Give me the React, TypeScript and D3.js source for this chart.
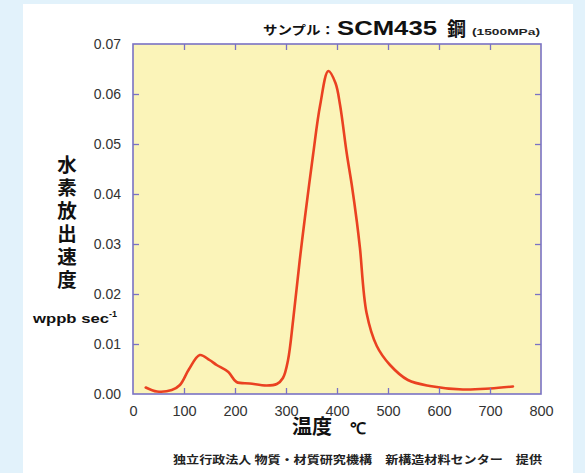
import React, { useEffect, useRef } from "react";
import * as d3 from "d3";

// temperature (°C) and hydrogen release rate (wppb/sec)
const temps = [25, 47, 76, 92, 110, 131, 150, 164, 187, 203, 229, 262, 282, 294, 304, 314, 327, 337, 353, 367, 383, 397, 406, 419, 429, 439, 445, 458, 478, 504, 539, 582, 647, 700, 745];
const rates = [0.0013, 0.0005, 0.0008, 0.0018, 0.005, 0.0078, 0.0068, 0.0058, 0.0044, 0.0024, 0.0021, 0.0017, 0.002, 0.0032, 0.0068, 0.0148, 0.0268, 0.0352, 0.0478, 0.0578, 0.0646, 0.0622, 0.0578, 0.0482, 0.0418, 0.0344, 0.0292, 0.0162, 0.0096, 0.0058, 0.0028, 0.0016, 0.0009, 0.0011, 0.0015];

const xTicks = [0, 100, 200, 300, 400, 500, 600, 700, 800];
const yTicks = [0, 0.01, 0.02, 0.03, 0.04, 0.05, 0.06, 0.07];
const yLabelChars = ["水", "素", "放", "出", "速", "度"];

const W = 585;
const H = 473;
const plot = { left: 133, right: 541, top: 44, bottom: 394 };

const latin = "'Liberation Sans', Arial, Helvetica, sans-serif";
const cjk = "'Noto Sans CJK JP', 'Liberation Sans', sans-serif";
const axisColor = "#7a72c4";

export default function App() {
  const gRef = useRef<SVGGElement>(null);

  const x = d3.scaleLinear().domain([0, 800]).range([plot.left, plot.right]);
  const y = d3.scaleLinear().domain([0, 0.07]).range([plot.bottom, plot.top]);

  const curve = d3
    .line<number>()
    .x((_, i) => x(temps[i]))
    .y((d) => y(d))
    .curve(d3.curveCatmullRom.alpha(0.5));

  useEffect(() => {
    const g = d3.select(gRef.current);
    g.selectAll("*").remove();
    const inner = xTicks.slice(1, -1);
    const innerY = yTicks.slice(1, -1);

    // bottom axis: labels + inward ticks
    const bottom = g
      .append("g")
      .attr("transform", `translate(0,${plot.bottom})`)
      .call(d3.axisBottom(x).tickValues(xTicks).tickSize(-6).tickSizeOuter(0).tickPadding(12).tickFormat(d3.format("d")));
    bottom.select(".domain").remove();
    bottom.selectAll(".tick line").attr("stroke", axisColor).attr("stroke-width", 1.3)
      .attr("display", (d: any) => (inner.includes(d) ? null : "none"));
    bottom.selectAll("text").attr("font-size", 14.5).attr("fill", "#333").attr("font-family", latin);

    // left axis
    const left = g
      .append("g")
      .attr("transform", `translate(${plot.left},0)`)
      .call(d3.axisLeft(y).tickValues(yTicks).tickSize(-6).tickSizeOuter(0).tickPadding(12).tickFormat(d3.format(".2f")));
    left.select(".domain").remove();
    left.selectAll(".tick line").attr("stroke", axisColor).attr("stroke-width", 1.3)
      .attr("display", (d: any) => (innerY.includes(d) ? null : "none"));
    left.selectAll("text").attr("font-size", 14).attr("fill", "#333").attr("font-family", latin);

    // top + right: ticks only
    const top = g
      .append("g")
      .attr("transform", `translate(0,${plot.top})`)
      .call(d3.axisTop(x).tickValues(inner).tickSize(-6).tickSizeOuter(0).tickFormat(() => ""));
    top.select(".domain").remove();
    top.selectAll(".tick line").attr("stroke", axisColor).attr("stroke-width", 1.3);

    const right = g
      .append("g")
      .attr("transform", `translate(${plot.right},0)`)
      .call(d3.axisRight(y).tickValues(innerY).tickSize(-6).tickSizeOuter(0).tickFormat(() => ""));
    right.select(".domain").remove();
    right.selectAll(".tick line").attr("stroke", axisColor).attr("stroke-width", 1.3);
  }, []);

  return (
    <svg width={W} height={H} style={{ position: "absolute", left: 0, top: 0, display: "block" }}>
      <rect x={0} y={0} width={W} height={H} fill="#e2f2fb" />
      <rect x={23} y={4} width={550} height={H - 4} fill="#ffffff" />

      <rect x={plot.left} y={plot.top} width={plot.right - plot.left} height={plot.bottom - plot.top} fill="#fbf4b9" />
      <path d={curve(rates) ?? ""} fill="none" stroke="#ea4121" strokeWidth={2.6} strokeLinejoin="round" strokeLinecap="round" />
      <rect x={plot.left} y={plot.top} width={plot.right - plot.left} height={plot.bottom - plot.top} fill="none" stroke={axisColor} strokeWidth={1.6} />
      <g ref={gRef} />

      {/* title */}
      <rect x={258} y={17} width={288} height={24} fill="#ffffff" />
      <text x={263} y={35} fontFamily={cjk} fontWeight="bold" fontSize={12.5} fill="#111" textLength={72} lengthAdjust="spacingAndGlyphs">サンプル：</text>
      <text x={337} y={35} fontFamily={latin} fontWeight="bold" fontSize={20} fill="#111" textLength={100} lengthAdjust="spacingAndGlyphs">SCM435</text>
      <text x={447} y={36} fontFamily={cjk} fontWeight="bold" fontSize={19} fill="#111">鋼</text>
      <text x={472} y={35} fontFamily={latin} fontWeight="bold" fontSize={9.5} fill="#222" textLength={68} lengthAdjust="spacingAndGlyphs">(1500MPa)</text>

      {/* y label, stacked vertically */}
      <text y={165} textAnchor="middle" fontFamily={cjk} fontWeight="bold" fontSize={19.5} fill="#111">
        {yLabelChars.map((c, i) => (
          <tspan key={c} x={67} dy={i === 0 ? "0.36em" : 23}>{c}</tspan>
        ))}
      </text>
      <text x={33} y={323} fontFamily={latin} fontWeight="bold" fontSize={13.5} fill="#111">
        <tspan textLength={76} lengthAdjust="spacingAndGlyphs">wppb sec</tspan>
        <tspan dy={-6} fontSize={9}>-1</tspan>
      </text>

      {/* x label */}
      <text x={292} y={434} fontFamily={cjk} fontWeight="bold" fontSize={20} fill="#111">温度</text>
      <text x={350} y={434} fontFamily={latin} fontWeight="bold" fontSize={16} fill="#111">℃</text>

      {/* credit */}
      <text x={173} y={464} fontFamily={cjk} fontWeight="bold" fontSize={11} fill="#222" textLength={369} lengthAdjust="spacingAndGlyphs">
        独立行政法人 物質・材質研究機構　新構造材料センター　提供
      </text>
    </svg>
  );
}
